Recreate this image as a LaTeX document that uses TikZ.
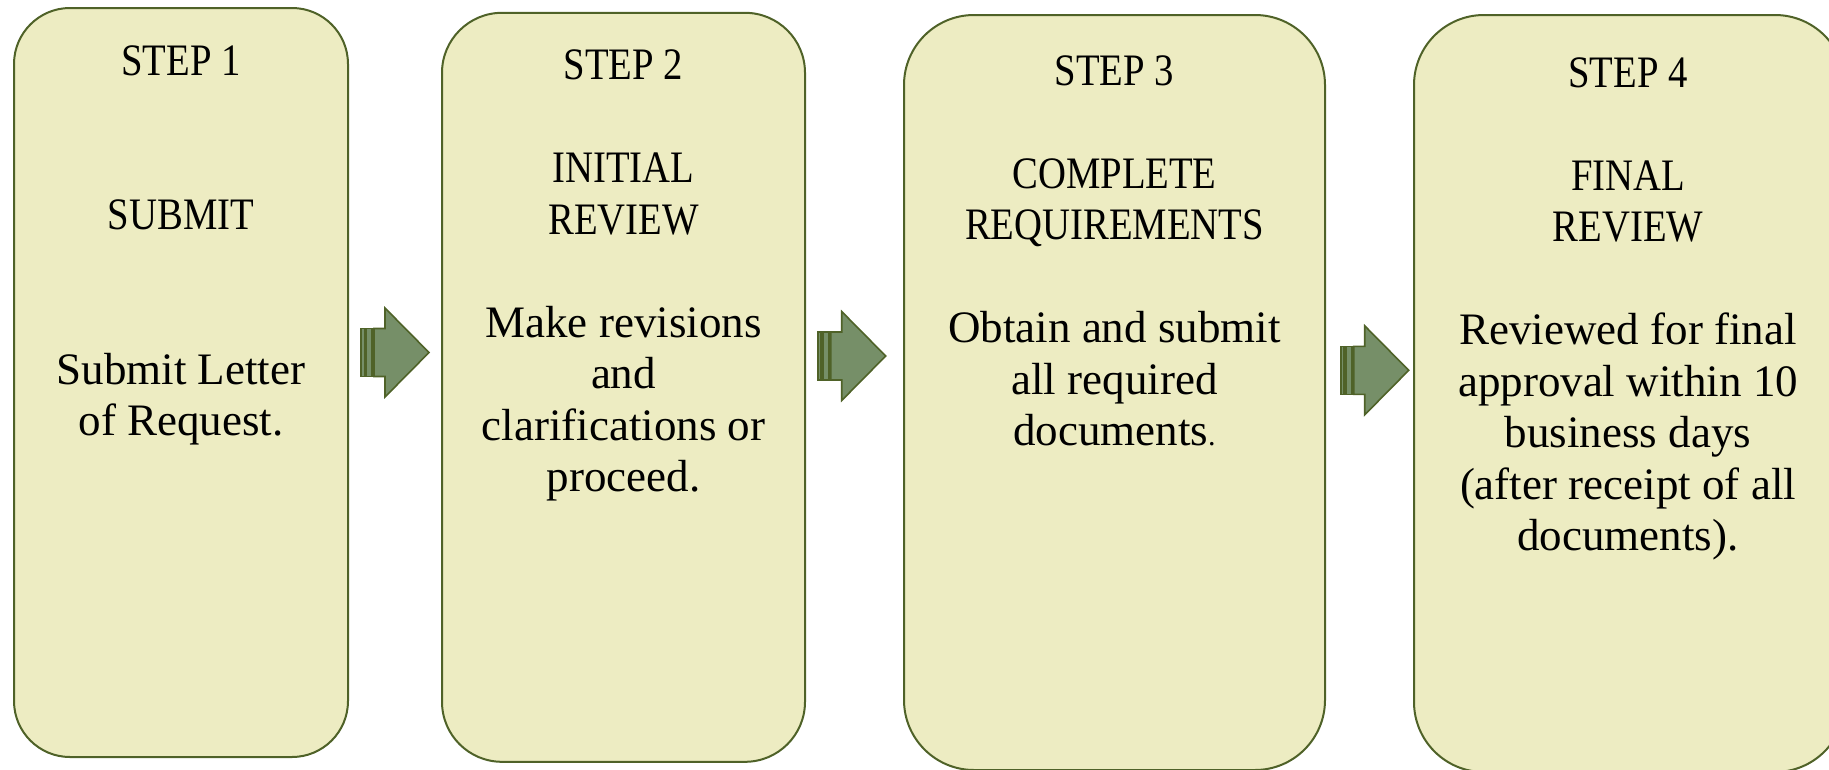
\documentclass[tikz,border=0pt]{standalone}
\usepackage{fontspec}
\setmainfont{Liberation Serif}
\newfontfamily\capsfont[FakeStretch=0.86]{Liberation Serif}

\definecolor{boxfill}{HTML}{EDECC2}
\definecolor{boxline}{HTML}{4F6228}
\definecolor{arrowfill}{HTML}{768F68}

\tikzset{
	stepbox/.style={draw=boxline, fill=boxfill, line width=2pt, inner sep=0pt},
	steptext/.style={anchor=north, align=center, inner sep=0pt,
		font=\fontsize{45}{51.5}\selectfont},
	arrowpart/.style={draw=boxline, fill=arrowfill, line width=1.6pt, line join=miter},
	stripearrow/.pic={
		\draw [arrowpart] (0, -24) rectangle (3.5, 24);
		\draw [arrowpart] (5, -24) rectangle (11, 24);
		\draw [arrowpart] (13, -24) -- (24, -24) -- (24, -44.5) -- (68, 0)
			-- (24, 44.5) -- (24, 24) -- (13, 24) -- cycle;
	}
}

\begin{document}
\begin{tikzpicture}[x=1pt, y=-1pt]
	\useasboundingbox (0, 0) rectangle (1829, 769);
	% Kaesten
	\node [stepbox, minimum width=334pt, minimum height=749pt, rounded corners=56pt] (step1) at (181, 382.5) {};
	\node [stepbox, minimum width=363pt, minimum height=749pt, rounded corners=60pt] (step2) at (623.5, 387.3) {};
	\node [stepbox, minimum width=421pt, minimum height=755pt, rounded corners=70pt] (step3) at (1114.5, 392.5) {};
	\node [stepbox, minimum width=431pt, minimum height=757pt, rounded corners=70pt] (step4) at (1629.5, 393.5) {};
	% Texte
	\node [steptext] (text1) at (181, 45) {{\capsfont STEP 1}\\[103pt]{\capsfont SUBMIT}\\[103pt]Submit Letter\\of Request.};
	\node [steptext] (text2) at (623.5, 49.5) {{\capsfont STEP 2}\\[51.5pt]{\capsfont INITIAL}\\{\capsfont REVIEW}\\[51.5pt]Make revisions\\and\\clarifications or\\proceed.};
	\node [steptext] (text3) at (1114.5, 55) {{\capsfont STEP 3}\\[51.5pt]{\capsfont COMPLETE}\\{\capsfont REQUIREMENTS}\\[51.5pt]Obtain and submit\\all required\\documents{\fontsize{30}{30}\selectfont.}};
	\node [steptext] (text4) at (1628, 57) {{\capsfont STEP 4}\\[51.5pt]{\capsfont FINAL}\\{\capsfont REVIEW}\\[51.5pt]Reviewed for final\\approval within 10\\business days\\(after receipt of all\\documents).};
	% Pfeile
	\pic at (361, 352.5) {stripearrow};
	\pic at (817.7, 356) {stripearrow};
	\pic at (1340.7, 370.3) {stripearrow};
\end{tikzpicture}
\end{document}
